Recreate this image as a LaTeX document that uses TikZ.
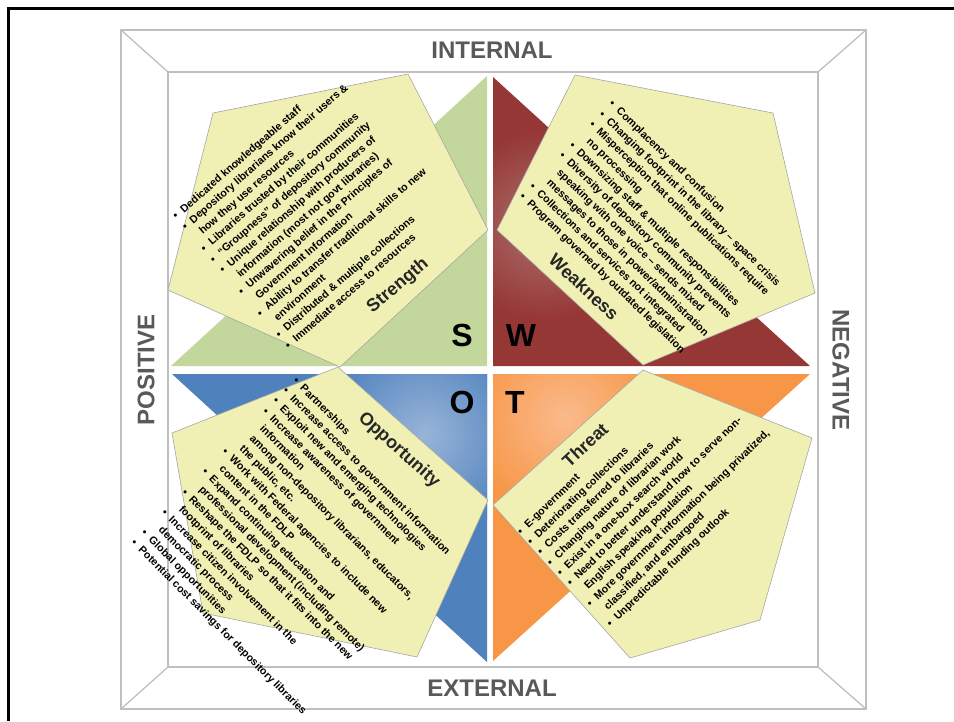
\documentclass[tikz,border=0pt]{standalone}
\usepackage{fontspec}
\setmainfont{Liberation Sans}
\usepackage{xcolor}
\usepackage{tikz}
\usetikzlibrary{positioning}

\definecolor{sgreen}{HTML}{C3D69B}
\definecolor{wred}{HTML}{953735}
\definecolor{wlight}{HTML}{AD706E}
\definecolor{oblue}{HTML}{4F81BD}
\definecolor{olight}{HTML}{98B4D8}
\definecolor{torange}{HTML}{F79646}
\definecolor{tlight}{HTML}{FABA8C}
\definecolor{notefill}{HTML}{F0F0B4}
\definecolor{sidegray}{HTML}{595959}

\newcommand{\bul}[1]{\makebox[0.95em][l]{\textbullet}#1}
\newcommand{\cont}[1]{\hspace*{0.95em}#1}

\begin{document}
\begin{tikzpicture}[x=1pt, y=-1pt,
            frameline/.style={draw=black!25, line width=1.3pt},
            notebox/.style={fill=notefill, draw=black!35, line width=0.6pt},
            items/.style={inner sep=0pt, align=left, font=\fontsize{10.7}{14.3}\selectfont\bfseries},
            heading/.style={inner sep=0pt, font=\fontsize{18}{18}\selectfont\bfseries, text=black!85},
            letter/.style={inner sep=0pt, font=\fontsize{32}{32}\selectfont\bfseries},
            side/.style={inner sep=0pt, font=\fontsize{24}{24}\selectfont\bfseries, text=sidegray}
        ]
            \useasboundingbox (0,0) rectangle (954,721);

            % Outer frame
            \draw[line width=3pt] (954,8) -- (8,8) -- (8,721);

            % Box with bevel
            \draw[frameline] (121,30) rectangle (866,709);
            \draw[frameline] (168,72) rectangle (818,667);
            \foreach \ox/\oy/\ix/\iy in {121/30/168/72, 866/30/818/72, 121/709/168/667, 866/709/818/667}
                \draw[frameline] (\ox,\oy) -- (\ix,\iy);

            % Side labels
            \node[side] (internal) at (492,50) {INTERNAL};
            \node[side] (external) at (492,688) {EXTERNAL};
            \node[side, rotate=90] (positive) at (146,370) {POSITIVE};
            \node[side, rotate=-90] (negative) at (841,370) {NEGATIVE};

            % Quadrants
            \fill[sgreen] (171,366) -- (487,366) -- (487,76) -- cycle;
            \fill[wred] (493,77) -- (493,366) -- (810,366) -- cycle;
            \begin{scope}
                \clip (493,77) -- (493,366) -- (810,366) -- cycle;
                \shade[inner color=wlight, outer color=wred] (545,225) circle (95);
            \end{scope}
            \fill[oblue] (172,374) -- (487,374) -- (487,662) -- cycle;
            \begin{scope}
                \clip (172,374) -- (487,374) -- (487,662) -- cycle;
                \shade[inner color=olight, outer color=oblue] (425,435) circle (105);
            \end{scope}
            \fill[torange] (493,374) -- (810,374) -- (493,661) -- cycle;
            \begin{scope}
                \clip (493,374) -- (810,374) -- (493,661) -- cycle;
                \shade[inner color=tlight, outer color=torange] (565,418) circle (100);
            \end{scope}

            % Notes
            \filldraw[notebox] (213,113) -- (408,74) -- (488,230) -- (340,367) -- (168,290) -- cycle;
            \filldraw[notebox] (575,75) -- (773,113) -- (815,293) -- (643,365) -- (497,230) -- cycle;
            \filldraw[notebox] (338,367) -- (488,500) -- (417,657) -- (203,613) -- (172,433) -- cycle;
            \filldraw[notebox] (643,370) -- (812,438) -- (760,620) -- (630,658) -- (493,505) -- cycle;

            % Letters
            \node[letter] (S) at (462,335) {S};
            \node[letter] (W) at (521,335) {W};
            \node[letter] (O) at (462,402) {O};
            \node[letter] (T) at (515,402) {T};

            % Headings
            \node[heading, rotate=40] (strength) at (398,286) {Strength};
            \node[heading, rotate=-43] (weakness) at (584,287) {Weakness};
            \node[heading, rotate=-42] (opportunity) at (399,450) {Opportunity};
            \node[heading, rotate=43] (threat) at (585,445) {Threat};

            % Strength items
            \node[items, rotate=41, anchor=north west] (slist) at (171,214) {%
                \bul{Dedicated knowledgeable staff}\\
                \bul{Depository librarians know their users \&}\\
                \cont{how they use resources}\\
                \bul{Libraries trusted by their communities}\\
                \bul{“Groupness” of depository community}\\
                \bul{Unique relationship with producers of}\\
                \cont{information (most not govt libraries)}\\
                \bul{Unwavering belief in the Principles of}\\
                \cont{Government Information}\\
                \bul{Ability to transfer traditional skills to new}\\
                \cont{environment}\\
                \bul{Distributed \& multiple collections}\\
                \bul{Immediate access to resources}};

            % Weakness items
            \node[items, rotate=-44, anchor=north west] (wlist) at (614,99) {%
                \bul{Complacency and confusion}\\
                \bul{Changing footprint in the library – space crisis}\\
                \bul{Misperception that online publications require}\\
                \cont{no processing}\\
                \bul{Downsizing staff \& multiple responsibilities}\\
                \bul{Diversity of depository community prevents}\\
                \cont{speaking with one voice – sends mixed}\\
                \cont{messages to those in power/administration}\\
                \bul{Collections and services not integrated}\\
                \bul{Program governed by outdated legislation}};

            % Opportunity items
            \node[items, rotate=-45, anchor=north west] (olist) at (298,376) {%
                \bul{Partnerships}\\
                \bul{Increase access to government information}\\
                \bul{Exploit new and emerging technologies}\\
                \bul{Increase awareness of government}\\
                \cont{information}\\
                \cont{among non-depository librarians, educators,}\\
                \cont{the public, etc.}\\
                \bul{Work with Federal agencies to include new}\\
                \cont{content in the FDLP}\\
                \bul{Expand continuing education and}\\
                \cont{professional development (including remote)}\\
                \bul{Reshape the FDLP so that it fits into the new}\\
                \cont{footprint of libraries}\\
                \bul{Increase citizen involvement in the}\\
                \cont{democratic process}\\
                \bul{Global opportunities}\\
                \bul{Potential cost savings for depository libraries}};

            % Threat items
            \node[items, rotate=44, anchor=north west] (tlist) at (516,530) {%
                \bul{E-government}\\
                \bul{Deteriorating collections}\\
                \bul{Costs transferred to libraries}\\
                \bul{Changing nature of librarian work}\\
                \bul{Exist in a one-box search world}\\
                \bul{Need to better understand how to serve non-}\\
                \cont{English speaking population}\\
                \bul{More government information being privatized,}\\
                \cont{classified, and embargoed}\\
                \bul{Unpredictable funding outlook}};
        \end{tikzpicture}
\end{document}
